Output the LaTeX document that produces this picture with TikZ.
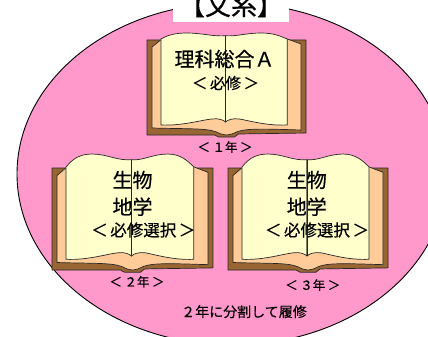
\documentclass[tikz,border=0pt]{standalone}
\usepackage{fontspec}
\newfontfamily\jp[FakeBold=0.4]{Noto Sans CJK JP}
\definecolor{bgpink}{HTML}{FF99CC}
\definecolor{coverbrown}{HTML}{996633}
\definecolor{stackpeach}{HTML}{FFCC99}
\definecolor{pagecream}{HTML}{FFFFCC}
\newcommand\bgap{\hspace{2.5pt}}
\tikzset{
  outline/.style={draw=black!85, line width=0.7pt, line join=round},
  jptext/.style={font=\jp\fontsize{#1}{#1}\selectfont, inner sep=0pt, text=black},
  % open book drawn in a 160 x 95 box; #1 = height of the page waves
  pics/openbook/.style={code={
    \path[outline, fill=coverbrown]
      (0,0) -- (160,0) -- (160,93) -- (92,94) -- (88,97) -- (72,97)
      -- (68,95) -- (0,95) -- cycle;
    \path[outline, fill=stackpeach]
      (5,7) -- (15,-1) -- (141,-1) -- (155,4) -- (155,90)
      .. controls (120,89) and (100,88) .. (90,92)
      .. controls (86,94) and (83,95) .. (80,95)
      .. controls (77,95) and (74,94) .. (70,92)
      .. controls (60,88) and (40,89) .. (5,88) -- cycle;
    \path[outline, fill=pagecream]
      (79,{-0.6*#1})
      .. controls (65,{-0.5*#1}) and (55,{-#1}) .. (40,{-#1})
      .. controls (30,{-#1}) and (22,{-0.8*#1}) .. (14,-1)
      -- (14,85)
      .. controls (35,86) and (55,80) .. (65,79)
      .. controls (72,78) and (77,80) .. (79,82) -- cycle;
    \path[outline, fill=pagecream]
      (79,{-0.6*#1})
      .. controls (90,{-0.5*#1}) and (100,{-#1}) .. (115,{-#1})
      .. controls (128,{-#1}) and (135,{-0.5*#1}) .. (141,-1)
      -- (141,85)
      .. controls (120,86) and (100,80) .. (93,79)
      .. controls (86,78) and (81,80) .. (79,82) -- cycle;
    \draw[black!85, line width=0.7pt] (79,{-0.6*#1}) -- (79,82);
  }}
}
\begin{document}
\begin{tikzpicture}[x=1pt,y=-1pt]
\useasboundingbox (0,0) rectangle (428,337);
\clip (0,0) rectangle (428,337);
\fill[white] (0,0) rectangle (428,337);

% pink field
\draw[fill=bgpink, line width=0.9pt] (232,174) ellipse [x radius=215, y radius=171];

% heading on a white band
\fill[white] (173,-1) rectangle (289,21.7);
\node[jptext=26, anchor=base] (title) at (231,15) {【文系】};

% books
\pic (bookA) at (147,40) [xscale=0.994] {openbook=7};
\pic (bookB) at (52,168) [xscale=1.006, yscale=1.074] {openbook=13};
\pic (bookC) at (228,168) [yscale=1.074] {openbook=13};

% first year
\node[jptext=20] (subjA) at (224.5,59) {理科総合Ａ};
\node[jptext=15.5] (reqA) at (225.5,83) {＜\bgap 必修\bgap ＞};
\node[jptext=12.5] (yearA) at (225,147) {＜\bgap １年\bgap ＞};

% second year
\node[jptext=20] (bioB) at (132.5,180) {生物};
\node[jptext=20] (geoB) at (132.5,206.7) {地学};
\node[jptext=16.5] (selB) at (143.3,230) {＜\bgap 必修選択\bgap ＞};
\node[jptext=12.5] (yearB) at (137,281.7) {＜\bgap ２年\bgap ＞};

% third year
\node[jptext=20] (bioC) at (306.8,180) {生物};
\node[jptext=20] (geoC) at (306.8,206.7) {地学};
\node[jptext=16.5] (selC) at (317,230) {＜\bgap 必修選択\bgap ＞};
\node[jptext=12.5] (yearC) at (312.8,285) {＜\bgap ３年\bgap ＞};

\node[jptext=14] (note) at (244,311.7) {２年に分割して履修};
\end{tikzpicture}
\end{document}
